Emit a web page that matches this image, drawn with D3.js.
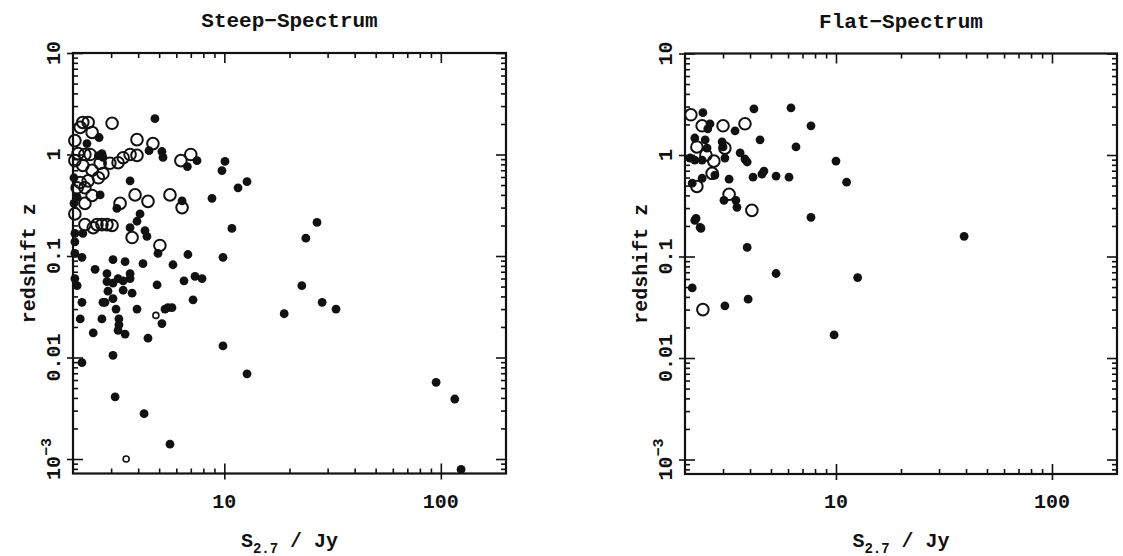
<!DOCTYPE html>
<html>
<head>
<meta charset="utf-8">
<script src="https://cdn.jsdelivr.net/npm/d3@7"></script>
<style>
  body { margin: 0; background: #fff; }
  svg { display: block; }
  .lbl { font-family: "Liberation Mono", "DejaVu Sans Mono", monospace; font-weight: bold; fill: #111; }
</style>
</head>
<body>
<div id="chart"></div>
<script>
// [S2.7 (Jy), redshift z]
const steepOpen = [
  [2.22, 2.07], [2.35, 2.07], [2.16, 1.85], [3.03, 2.03], [2.45, 1.65], [2.04, 1.37],
  [3.95, 1.40], [4.68, 1.28], [6.30, 0.87], [7.00, 1.00], [2.11, 1.02], [2.27, 1.00],
  [2.40, 1.00], [2.04, 0.87], [2.22, 0.78], [2.45, 0.70], [2.67, 0.82], [2.96, 0.82],
  [3.23, 0.83], [3.41, 0.93], [3.67, 1.00], [3.95, 0.98], [2.62, 0.59], [2.75, 0.65],
  [2.16, 0.53], [2.35, 0.55], [2.09, 0.47], [2.27, 0.47], [3.87, 0.40], [4.44, 0.345],
  [5.61, 0.40], [6.38, 0.30], [3.30, 0.33], [2.45, 0.395], [2.27, 0.33], [2.04, 0.26],
  [2.58, 0.204], [2.72, 0.204], [2.87, 0.204], [3.03, 0.20], [2.27, 0.204], [2.48, 0.19],
  [3.75, 0.152], [5.04, 0.127]
];
const steepSmallOpen = [[4.83, 0.026], [3.52, 0.001]];
const steepFilled = [
  [4.78, 2.26], [2.64, 1.47], [2.32, 1.28], [4.49, 1.09], [5.15, 1.07], [5.21, 0.935],
  [6.75, 0.76], [7.48, 0.87], [10.07, 0.855], [9.75, 0.695], [12.73, 0.54], [11.57, 0.47],
  [3.67, 0.55], [6.38, 0.35], [8.77, 0.37], [4.08, 0.26], [3.95, 0.22], [3.67, 0.19],
  [4.30, 0.178], [3.19, 0.294], [2.67, 0.40], [2.02, 0.59], [2.09, 0.38], [2.02, 0.33],
  [2.72, 1.02], [2.62, 0.975], [2.75, 0.935], [10.84, 0.187], [2.04, 0.167], [2.22, 0.167],
  [4.39, 0.156], [4.94, 0.106], [2.04, 0.138], [2.04, 0.106], [2.20, 0.097], [3.06, 0.092],
  [3.48, 0.088], [4.21, 0.084], [6.79, 0.1035], [5.79, 0.082], [9.86, 0.097], [2.53, 0.074],
  [2.04, 0.060], [2.09, 0.051], [2.87, 0.067], [2.87, 0.056], [3.06, 0.054], [3.23, 0.060],
  [3.41, 0.057], [3.67, 0.060], [3.67, 0.067], [3.41, 0.046], [3.75, 0.043], [2.90, 0.045],
  [4.89, 0.052], [6.51, 0.057], [7.32, 0.063], [7.89, 0.060], [3.06, 0.038], [2.81, 0.035],
  [2.75, 0.035], [2.20, 0.035], [7.17, 0.037], [3.16, 0.030], [3.95, 0.030], [5.32, 0.030],
  [5.49, 0.031], [5.73, 0.031], [5.15, 0.0216], [2.16, 0.024], [2.72, 0.024], [3.26, 0.024],
  [3.26, 0.021], [2.48, 0.0175], [3.23, 0.0185], [3.48, 0.017], [4.44, 0.0155], [9.86, 0.013],
  [3.06, 0.0105], [2.20, 0.0089], [12.73, 0.0069], [3.13, 0.0041], [4.26, 0.0028], [5.61, 0.0014],
  [26.8, 0.214], [23.8, 0.15], [22.8, 0.051], [28.3, 0.035], [18.9, 0.027], [32.8, 0.030],
  [95.1, 0.0057], [116, 0.0039], [124, 0.00079]
];
const flatOpen = [
  [2.13, 2.49], [2.40, 1.94], [3.00, 1.94], [3.79, 2.03], [2.27, 1.20], [2.50, 1.00],
  [3.06, 1.17], [2.72, 0.87], [2.67, 0.66], [2.27, 0.49], [3.20, 0.41], [4.08, 0.285],
  [2.42, 0.030]
];
const flatFilled = [
  [2.42, 2.61], [2.61, 2.03], [2.55, 1.81], [3.41, 1.73], [4.17, 2.85], [6.19, 2.91],
  [7.66, 1.94], [2.22, 1.47], [2.48, 1.41], [4.45, 1.41], [6.53, 1.20], [2.53, 1.17],
  [2.97, 1.35], [3.00, 1.20], [3.60, 1.05], [3.79, 0.913], [3.88, 0.853], [2.11, 0.934],
  [2.22, 0.891], [2.40, 0.891], [3.06, 0.934], [10.0, 0.872], [11.2, 0.54], [2.75, 0.634],
  [3.20, 0.578], [4.13, 0.605], [4.54, 0.649], [4.64, 0.695], [5.28, 0.62], [6.06, 0.605],
  [3.03, 0.358], [3.44, 0.358], [3.48, 0.305], [7.66, 0.243], [3.88, 0.123], [2.37, 0.189],
  [2.40, 0.59], [2.16, 0.528], [2.22, 0.227], [2.25, 0.237], [2.35, 0.194], [5.28, 0.068],
  [12.6, 0.062], [2.16, 0.049], [3.92, 0.038], [3.06, 0.0327], [9.8, 0.0169], [39.2, 0.158]
];

const panelTitles = ["Steep\u2212Spectrum", "Flat\u2212Spectrum"];
const xMajorTicks = [10, 100];
const xTickLabels = ["10", "100"];
const yMajorTicks = [10, 1, 0.1, 0.01, 0.001];
const yTickLabels = ["10", "1", "0.1", "0.01", "10^-3"];

const xDomain = [2, 200];
const yDomain = [7.2e-4, 10];

const width = 1123, height = 556;
const svg = d3.select("#chart").append("svg")
  .attr("width", width).attr("height", height);

function minorTicks(domain) {
  const out = [];
  for (let d = Math.floor(Math.log10(domain[0])); d <= Math.ceil(Math.log10(domain[1])); d++) {
    for (let k = 2; k <= 9; k++) {
      const v = k * Math.pow(10, d);
      if (v > domain[0] * 1.001 && v < domain[1] * 0.999) out.push(v);
    }
  }
  return out;
}

function drawPanel(left, top, w, h, title, openPts, smallPts, filledPts) {
  const g = svg.append("g").attr("transform", `translate(${left},${top})`);

  const x = d3.scaleLog().domain(xDomain).range([0, w]);
  const y = d3.scaleLog().domain(yDomain).range([h, 0]);

  const xMinor = minorTicks(xDomain);
  const yMinor = minorTicks(yDomain);

  // minor ticks, inward on all four sides
  g.append("g").attr("transform", `translate(0,${h})`)
    .call(d3.axisBottom(x).tickValues(xMinor).tickSize(-5).tickFormat(""));
  g.append("g")
    .call(d3.axisTop(x).tickValues(xMinor).tickSize(-5).tickFormat(""));
  g.append("g")
    .call(d3.axisLeft(y).tickValues(yMinor).tickSize(-5).tickFormat(""));
  g.append("g").attr("transform", `translate(${w},0)`)
    .call(d3.axisRight(y).tickValues(yMinor).tickSize(-5).tickFormat(""));

  // major ticks
  g.append("g").attr("transform", `translate(0,${h})`)
    .call(d3.axisBottom(x).tickValues(xMajorTicks).tickSize(-10).tickFormat(""))
    .selectAll(".tick line").attr("y1", 6);
  g.append("g")
    .call(d3.axisTop(x).tickValues(xMajorTicks).tickSize(-10).tickFormat(""));
  g.append("g")
    .call(d3.axisLeft(y).tickValues(yMajorTicks).tickSize(-10).tickFormat(""))
    .selectAll(".tick line").attr("x1", -6);
  g.append("g").attr("transform", `translate(${w},0)`)
    .call(d3.axisRight(y).tickValues(yMajorTicks).tickSize(-10).tickFormat(""));

  g.selectAll(".domain").remove();
  g.selectAll(".tick line").attr("stroke", "#111").attr("stroke-width", 1.6);

  g.append("rect")
    .attr("width", w).attr("height", h)
    .attr("fill", "none").attr("stroke", "#111").attr("stroke-width", 2.2);

  // tick labels
  g.selectAll(".xlab").data(xMajorTicks).enter().append("text")
    .attr("class", "lbl")
    .attr("x", (d) => x(d)).attr("y", h + 34)
    .attr("text-anchor", "middle").style("font-size", "20px")
    .text((d, i) => xTickLabels[i]);

  const ylab = g.selectAll(".ylab").data(yMajorTicks).enter().append("text")
    .attr("class", "lbl")
    .attr("transform", (d) => `translate(-13,${y(d)}) rotate(-90)`)
    .attr("text-anchor", "middle").style("font-size", "20px");
  ylab.each(function (d, i) {
    const t = d3.select(this);
    const parts = yTickLabels[i].split("^");
    t.append("tspan").text(parts[0]);
    if (parts[1]) {
      t.append("tspan").attr("dy", -9).style("font-size", "15px")
        .text(parts[1].replace("-", "\u2212"));
    }
  });

  // titles
  g.append("text").attr("class", "lbl")
    .attr("x", w / 2).attr("y", -26)
    .attr("text-anchor", "middle").style("font-size", "21px")
    .text(title);

  const xt = g.append("text").attr("class", "lbl")
    .attr("x", w / 2).attr("y", h + 73)
    .attr("text-anchor", "middle").style("font-size", "20px");
  xt.append("tspan").text("S");
  xt.append("tspan").attr("dy", 6).style("font-size", "14px").text("2.7");
  xt.append("tspan").attr("dy", -6).text(" / Jy");

  g.append("text").attr("class", "lbl")
    .attr("transform", `translate(-38,${h / 2}) rotate(-90)`)
    .attr("text-anchor", "middle").style("font-size", "20px")
    .text("redshift z");

  // points
  g.selectAll(".filled").data(filledPts).enter().append("circle")
    .attr("cx", (d) => x(d[0])).attr("cy", (d) => y(d[1]))
    .attr("r", 4.4).attr("fill", "#111");

  g.selectAll(".open").data(openPts).enter().append("circle")
    .attr("cx", (d) => x(d[0])).attr("cy", (d) => y(d[1]))
    .attr("r", 5.8).attr("fill", "none")
    .attr("stroke", "#111").attr("stroke-width", 2);

  g.selectAll(".small").data(smallPts).enter().append("circle")
    .attr("cx", (d) => x(d[0])).attr("cy", (d) => y(d[1]))
    .attr("r", 3).attr("fill", "none")
    .attr("stroke", "#111").attr("stroke-width", 1.6);
}

drawPanel(73, 53, 433, 420.5, panelTitles[0], steepOpen, steepSmallOpen, steepFilled);
drawPanel(685, 53.5, 432, 420.5, panelTitles[1], flatOpen, [], flatFilled);
</script>
</body>
</html>
